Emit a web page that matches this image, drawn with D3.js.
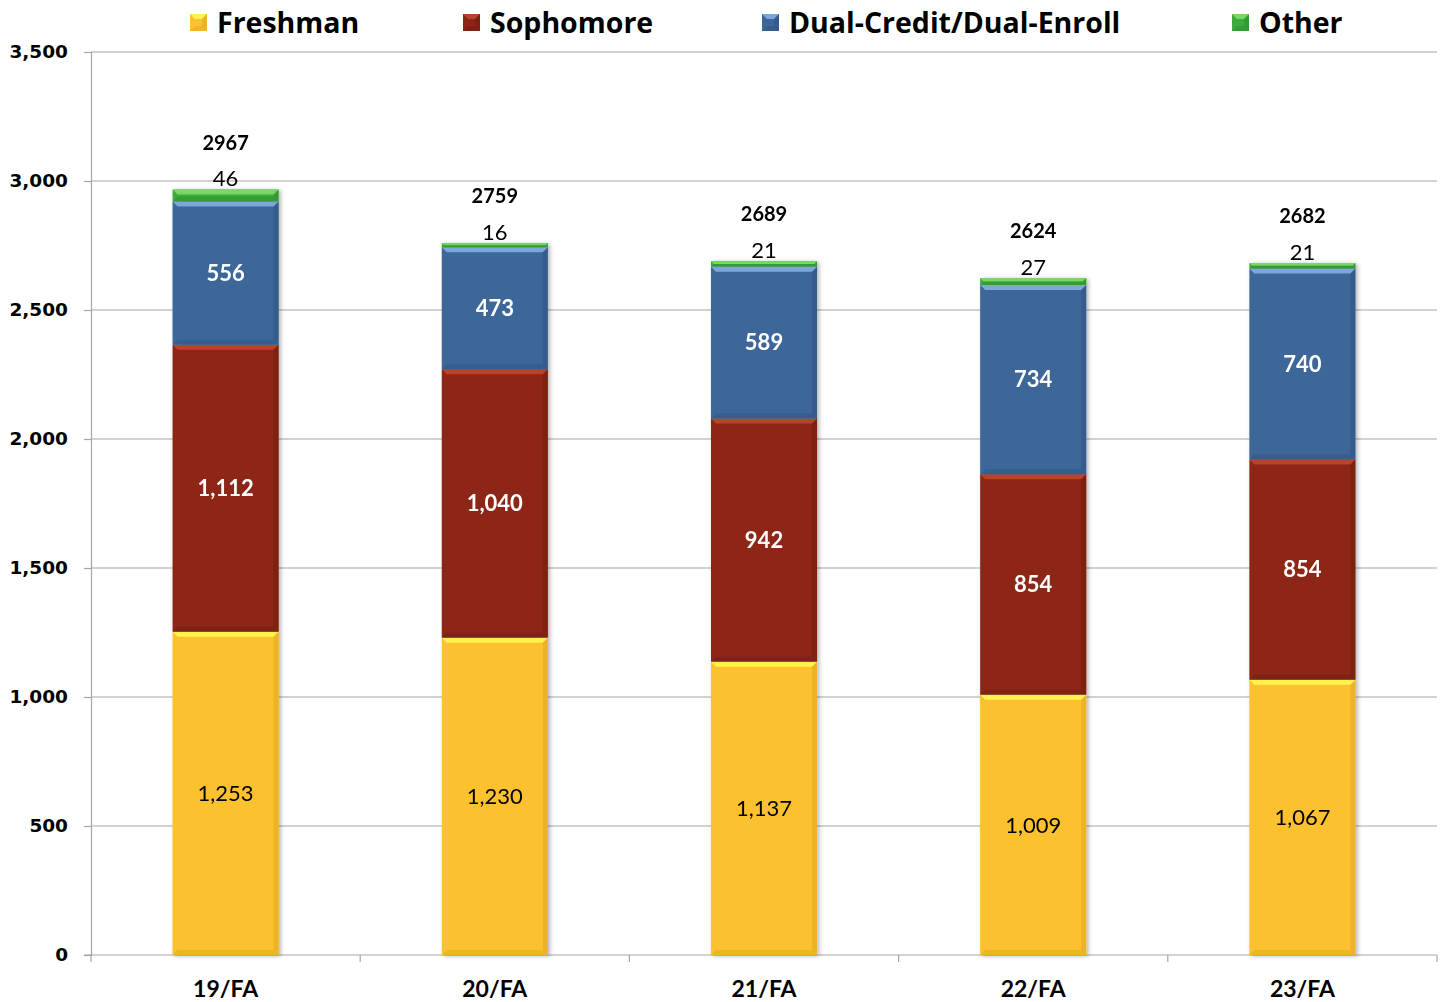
<!DOCTYPE html>
<html>
<head>
<meta charset="utf-8">
<script src="https://cdn.jsdelivr.net/npm/d3@7"></script>
<style>
  body { margin: 0; background: #fff; }
  svg { display: block; }
</style>
</head>
<body>
<svg width="1444" height="1002"></svg>
<script>
// data
const terms = ['19/FA', '20/FA', '21/FA', '22/FA', '23/FA'];
const freshman = [1253, 1230, 1137, 1009, 1067];
const sophomore = [1112, 1040, 942, 854, 854];
const dualCredit = [556, 473, 589, 734, 740];
const other = [46, 16, 21, 27, 21];
const totals = [2967, 2759, 2689, 2624, 2682];
const seriesNames = ['Freshman', 'Sophomore', 'Dual-Credit/Dual-Enroll', 'Other'];
const yTicks = [0, 500, 1000, 1500, 2000, 2500, 3000, 3500];

const colors = [
    { base: '#fcc12f', light: '#fff24e', dark: '#d69e1c' },
    { base: '#8d2515', light: '#b8432c', dark: '#651a0d' },
    { base: '#3d6699', light: '#7ca7dd', dark: '#2b4d78' },
    { base: '#3dab3d', light: '#78d866', dark: '#278227' }
];

const svg = d3.select('svg');
const plotLeft = 91, plotRight = 1437, plotTop = 52, plotBottom = 955;

const x = d3.scaleBand()
    .domain(terms)
    .range([plotLeft, plotRight])
    .paddingInner(0.606)
    .paddingOuter(0.303);

const y = d3.scaleLinear()
    .domain([0, 3500])
    .range([plotBottom, plotTop]);

const fmt = d3.format(',');

// drop shadow for the bars
const defs = svg.append('defs');
const shadow = defs.append('filter')
    .attr('id', 'shadow')
    .attr('x', '-10%').attr('y', '-10%')
    .attr('width', '130%').attr('height', '130%');
shadow.append('feDropShadow')
    .attr('dx', 2).attr('dy', 1)
    .attr('stdDeviation', 2)
    .attr('flood-color', '#000')
    .attr('flood-opacity', 0.3);

// gridlines
svg.append('g')
    .selectAll('line')
    .data(yTicks.filter(d => d > 0))
    .join('line')
    .attr('x1', plotLeft)
    .attr('x2', plotRight)
    .attr('y1', d => y(d))
    .attr('y2', d => y(d))
    .attr('stroke', '#a6a6a6')
    .attr('stroke-width', 1.2);

// y axis
const yAxis = svg.append('g')
    .attr('transform', `translate(${plotLeft},0)`)
    .call(d3.axisLeft(y).tickValues(yTicks).tickSize(7).tickPadding(16).tickFormat(fmt));
yAxis.select('.domain').attr('stroke', '#a6a6a6').attr('stroke-width', 1.2);
yAxis.selectAll('.tick line').attr('stroke', '#a6a6a6').attr('stroke-width', 1.2);
yAxis.selectAll('.tick text')
    .attr('font-family', 'DejaVu Sans')
    .attr('font-weight', 'bold')
    .attr('font-size', 18.5)
    .attr('fill', '#000');

// x axis
svg.append('line')
    .attr('x1', plotLeft - 7).attr('x2', plotRight)
    .attr('y1', plotBottom).attr('y2', plotBottom)
    .attr('stroke', '#a6a6a6').attr('stroke-width', 1.2);
const step = x.step();
svg.append('g')
    .selectAll('line')
    .data(d3.range(terms.length + 1))
    .join('line')
    .attr('x1', i => plotLeft + i * step)
    .attr('x2', i => plotLeft + i * step)
    .attr('y1', plotBottom)
    .attr('y2', plotBottom + 7)
    .attr('stroke', '#a6a6a6')
    .attr('stroke-width', 1.2);
svg.append('g')
    .selectAll('text')
    .data(terms)
    .join('text')
    .attr('x', d => x(d) + x.bandwidth() / 2)
    .attr('y', 997)
    .attr('text-anchor', 'middle')
    .attr('font-family', 'Lato')
    .attr('font-weight', 'bold')
    .attr('font-size', 23)
    .text(d => d);

// stacked segments
const rows = terms.map((t, i) => ({
    term: t,
    Freshman: freshman[i],
    Sophomore: sophomore[i],
    'Dual-Credit/Dual-Enroll': dualCredit[i],
    Other: other[i]
}));
const stacked = d3.stack().keys(seriesNames)(rows);

const bev = 5;
function drawSegment(g, x0, x1, y0, y1, c) {
    const h = y1 - y0;
    const b = Math.min(bev, h / 2);
    g.append('rect')
        .attr('x', x0).attr('y', y0)
        .attr('width', x1 - x0).attr('height', h)
        .attr('fill', c.base);
    // top bevel
    g.append('polygon')
        .attr('points', [[x0, y0], [x1, y0], [x1 - b, y0 + b], [x0 + b, y0 + b]].join(' '))
        .attr('fill', c.light);
    // right bevel
    g.append('polygon')
        .attr('points', [[x1, y0], [x1 - b, y0 + b], [x1 - b, y1 - b], [x1, y1]].join(' '))
        .attr('fill', c.dark)
        .attr('opacity', 0.4);
    // bottom bevel
    g.append('polygon')
        .attr('points', [[x0, y1], [x0 + b, y1 - b], [x1 - b, y1 - b], [x1, y1]].join(' '))
        .attr('fill', c.dark)
        .attr('opacity', 0.35);
}

const barsG = svg.append('g').attr('filter', 'url(#shadow)');
stacked.forEach((layer, si) => {
    layer.forEach((d, i) => {
        const x0 = x(terms[i]);
        drawSegment(barsG, x0, x0 + x.bandwidth(), y(d[1]), y(d[0]), colors[si]);
    });
});

// value labels inside bars
const labelStyle = [
    { fill: '#000', weight: 'normal' },
    { fill: '#fff', weight: 'bold' },
    { fill: '#fff', weight: 'bold' }
];
stacked.slice(0, 3).forEach((layer, si) => {
    svg.append('g')
        .selectAll('text')
        .data(layer)
        .join('text')
        .attr('x', (d, i) => x(terms[i]) + x.bandwidth() / 2)
        .attr('y', d => (y(d[0]) + y(d[1])) / 2)
        .attr('dy', '0.35em')
        .attr('text-anchor', 'middle')
        .attr('font-family', 'Lato')
        .attr('font-size', 22)
        .attr('font-weight', labelStyle[si].weight)
        .attr('fill', labelStyle[si].fill)
        .text(d => fmt(d[1] - d[0]));
});

// "Other" labels and totals above bars
svg.append('g')
    .selectAll('text')
    .data(other)
    .join('text')
    .attr('x', (d, i) => x(terms[i]) + x.bandwidth() / 2)
    .attr('y', (d, i) => y(totals[i]) - 11)
    .attr('dy', '0.35em')
    .attr('text-anchor', 'middle')
    .attr('font-family', 'Lato')
    .attr('font-size', 22)
    .attr('fill', '#000')
    .text(d => d);

svg.append('g')
    .selectAll('text')
    .data(totals)
    .join('text')
    .attr('x', (d, i) => x(terms[i]) + x.bandwidth() / 2)
    .attr('y', d => y(d) - 47)
    .attr('dy', '0.35em')
    .attr('text-anchor', 'middle')
    .attr('font-family', 'Lato')
    .attr('font-weight', 'bold')
    .attr('font-size', 20)
    .attr('fill', '#000')
    .text(d => d);

// legend
const legendX = [190, 463, 762, 1232];
const legend = svg.append('g')
    .selectAll('g')
    .data(seriesNames)
    .join('g')
    .attr('transform', (d, i) => `translate(${legendX[i]},14)`);
legend.each(function(d, i) {
    const g = d3.select(this);
    drawSegment(g, 0, 17, 0, 17, colors[i]);
});
legend.append('text')
    .attr('x', 27)
    .attr('y', 9)
    .attr('dy', '0.35em')
    .attr('font-family', 'Open Sans')
    .attr('font-weight', 'bold')
    .attr('font-size', 28.5)
    .attr('fill', '#000')
    .text(d => d);
</script>
</body>
</html>
